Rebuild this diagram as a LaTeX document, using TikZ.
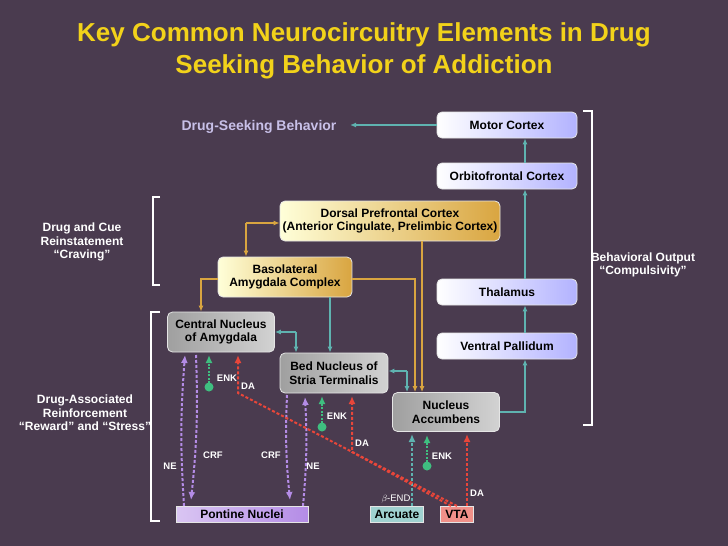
\documentclass[tikz,border=0pt]{standalone}
\usepackage{fontspec}
\setmainfont{Liberation Sans}
\usetikzlibrary{arrows.meta}
\definecolor{bg}{HTML}{4A3B4F}
\definecolor{ttl}{HTML}{F2D21A}
\definecolor{tl}{HTML}{5FB3B0}
\definecolor{og}{HTML}{D9A540}
\definecolor{pu}{HTML}{B48CE6}
\definecolor{gr}{HTML}{3FBF80}
\definecolor{rd}{HTML}{E8463A}
\definecolor{lav}{HTML}{C8C0E8}
\begin{document}
\begin{tikzpicture}[x=1pt,y=-1pt,font=\bfseries\fontsize{12}{13.5}\selectfont,
 box/.style={rounded corners=5pt,draw=white!80!gray,line width=0.8pt,align=center,minimum height=26pt,inner sep=1pt},
 blu/.style={box,left color=white,right color=blue!30!white,minimum width=140pt},
 org/.style={box,left color=yellow!15!white,right color=og,minimum height=40pt},
 gry/.style={box,left color=gray!75,right color=gray!35,minimum height=40pt,minimum width=107pt},
 fl/.style={draw=white!80!gray,align=center,minimum height=16pt,inner sep=1pt},
 tarr/.style={tl,line width=1.3pt,-{Latex[length=6pt,width=5pt]}},
 oarr/.style={og,line width=1.3pt,-{Latex[length=6pt,width=5pt]}},
 dsh/.style={line width=2pt,dash pattern=on 3pt off 2pt,-{Latex[length=8pt,width=7pt]}},
 lbl/.style={white,font=\bfseries\fontsize{9.5}{11}\selectfont},
 side/.style={white,align=center,font=\bfseries\fontsize{12}{13.5}\selectfont},
 brk/.style={white,line width=1.2pt}]
\fill[bg] (0,0) rectangle (728,546);
\node[ttl,align=center,font=\bfseries\fontsize{26}{32}\selectfont] (title) at (364,51) {Key Common Neurocircuitry Elements in Drug\\Seeking Behavior of Addiction};
\node[lav,font=\bfseries\fontsize{14}{16}\selectfont] (dsb) at (259,127) {Drug-Seeking Behavior};
\node[blu] (mc) at (507,125) {Motor Cortex};
\node[blu] (ofc) at (507,176) {Orbitofrontal Cortex};
\node[blu] (th) at (507,292) {Thalamus};
\node[blu] (vp) at (507,346) {Ventral Pallidum};
\node[org,minimum width=220pt] (dpfc) at (390,221) {Dorsal Prefrontal Cortex\\(Anterior Cingulate, Prelimbic Cortex)};
\node[org,minimum width=134pt] (bla) at (285,277) {Basolateral\\Amygdala Complex};
\node[gry] (cea) at (221,332) {Central Nucleus\\of Amygdala};
\node[gry,minimum width=108pt] (bnst) at (334,373) {Bed Nucleus of\\Stria Terminalis};
\node[gry,minimum height=39pt] (nac) at (446,412) {Nucleus\\Accumbens};
\node[fl,left color=pu!50!white,right color=pu,minimum width=132pt] (pn) at (242,514) {Pontine Nuclei};
\node[fl,fill=tl!60!white,minimum width=53pt] (arc) at (397,514) {Arcuate};
\node[fl,fill=rd!60!white,minimum width=33pt] (vta) at (457,514) {VTA};
% side labels
\node[side] (crv) at (82,242) {Drug and Cue\\Reinstatement\\“Craving”};
\node[side] (rew) at (85,413) {Drug-Associated\\Reinforcement\\“Reward” and “Stress”};
\node[side] (cmp) at (643,265) {Behavioral Output\\“Compulsivity”};
\draw[brk] (160,197) -- (153,197) -- (153,285) -- (160,285);
\draw[brk] (160,312) -- (151,312) -- (151,521) -- (160,521);
\draw[brk] (583,111) -- (592,111) -- (592,425) -- (583,425);
% teal output chain
\draw[tarr] (mc.west) -- (350,125);
\draw[tarr] (ofc.north -| 525,0) -- (mc.south -| 525,0);
\draw[tarr] (th.north -| 525,0) -- (ofc.south -| 525,0);
\draw[tarr] (vp.north -| 525,0) -- (th.south -| 525,0);
\draw[tarr] (nac.east) -- (525,412) -- (vp.south -| 525,0);
% orange
\draw[oarr] (246,223) -- (dpfc.west |- 0,223);
\draw[oarr] (246,223) -- (bla.north -| 246,0);
\draw[oarr] (dpfc.south -| 422,0) -- (nac.north -| 422,0);
\draw[oarr] (bla.west |- 0,279) -- (201,279) -- (cea.north -| 201,0);
\draw[oarr] (bla.east |- 0,279) -- (415,279) -- (nac.north -| 415,0);
% teal among amygdala
\draw[tarr] (bla.south -| 330,0) -- (bnst.north -| 330,0);
\draw[tarr] (296,332) -- (cea.east |- 0,332);
\draw[tarr] (296,332) -- (bnst.north -| 296,0);
\draw[tarr] (407,371) -- (bnst.east |- 0,371);
\draw[tarr] (407,371) -- (nac.north -| 407,0);
% purple dashed
\draw[dsh,pu] (184,506) to[bend left=4] (185,355);
\draw[dsh,pu] (196,355) to[bend left=4] (191,500);
\draw[dsh,pu] (287,395) to[bend right=4] (290,500);
\draw[dsh,pu] (303,506) to[bend right=4] (305,397);
% green ENK
\fill[gr] (209,387) circle (4.5pt);
\draw[dsh,gr,dash pattern=on 2pt off 1.5pt] (209,383) -- (209,355);
\fill[gr] (322,427) circle (4.5pt);
\draw[dsh,gr,dash pattern=on 2pt off 1.5pt] (322,423) -- (322,396);
\fill[gr] (427,466) circle (4.5pt);
\draw[dsh,gr,dash pattern=on 2pt off 1.5pt] (427,462) -- (427,435);
% arcuate
\draw[dsh,tl] (412,506) -- (412,434);
% red DA
\draw[dsh,rd] (457,506) -- (238,393) -- (238,355);
\draw[dsh,rd] (451,506) -- (352,452) -- (352,396);
\draw[dsh,rd] (467,506) -- (467,434);
% labels
\node[lbl] (l1) at (227,378) {ENK};
\node[lbl] (l2) at (248,386) {DA};
\node[lbl] (l3) at (170,466) {NE};
\node[lbl] (l4) at (213,455) {CRF};
\node[lbl] (l5) at (271,455) {CRF};
\node[lbl] (l6) at (313,466) {NE};
\node[lbl] (l7) at (337,416) {ENK};
\node[lbl] (l8) at (362,443) {DA};
\node[lbl] (l9) at (442,456) {ENK};
\node[lbl] (l10) at (477,493) {DA};
\node[lbl,font=\fontsize{9.5}{11}\selectfont] (l11) at (396,499) {$\beta$-END};
\end{tikzpicture}
\end{document}
